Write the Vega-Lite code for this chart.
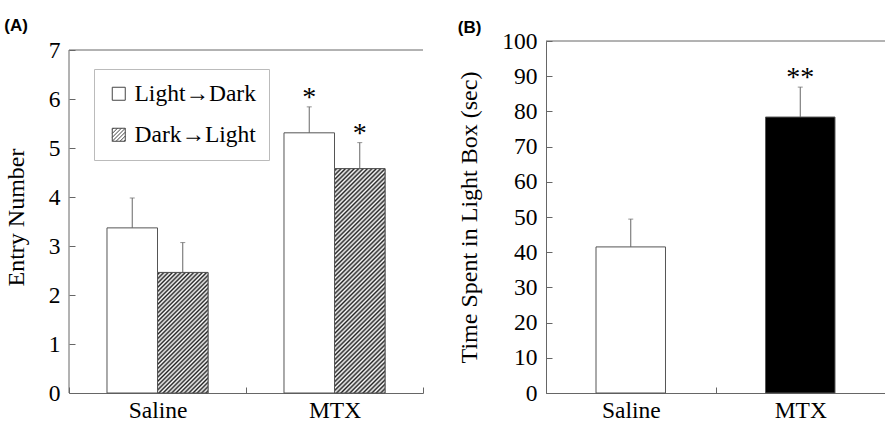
{
  "$schema": "https://vega.github.io/schema/vega-lite/v6.json",
  "background": "white",
  "padding": {"left": 4, "top": 17, "right": 1, "bottom": 0},
  "config": {
    "view": {"stroke": null},
    "axis": {
      "labelFont": "Liberation Serif", "labelFontSize": 23.5, "labelColor": "#000",
      "titleFont": "Liberation Serif", "titleFontSize": 24, "titleFontWeight": "normal", "titleColor": "#000",
      "domainColor": "#666", "tickColor": "#666", "tickSize": -6, "grid": false
    },
    "title": {"font": "Liberation Sans", "fontSize": 17, "fontWeight": "bold", "anchor": "start", "frame": "bounds", "color": "#000"},
    "concat": {"spacing": 33}
  },
  "datasets": {
    "entries": [
      {"group": "Saline", "dir": "Light→Dark", "mean": 3.37, "upper": 3.98, "sig": ""},
      {"group": "Saline", "dir": "Dark→Light", "mean": 2.46, "upper": 3.07, "sig": ""},
      {"group": "MTX", "dir": "Light→Dark", "mean": 5.31, "upper": 5.84, "sig": "*"},
      {"group": "MTX", "dir": "Dark→Light", "mean": 4.58, "upper": 5.11, "sig": "*"}
    ],
    "time": [
      {"group": "Saline", "mean": 41.5, "upper": 49.4, "sig": ""},
      {"group": "MTX", "mean": 78.4, "upper": 86.9, "sig": "**"}
    ]
  },
  "hconcat": [
    {
      "width": 354, "height": 352,
      "title": {"text": "(A)", "offset": 6, "dy": 3},
      "data": {"name": "entries"},
      "layer": [
        {
          "mark": {"type": "bar", "stroke": "#555", "strokeWidth": 1, "fill": "white"},
          "encoding": {
            "x": {"field": "group", "type": "nominal", "sort": ["Saline", "MTX"], "scale": {"domain": ["Saline", "MTX"], "paddingInner": 0, "paddingOuter": 0}, "axis": {"title": null, "labelAngle": 0, "tickBand": "extent", "labelPadding": 11}},
            "xOffset": {"field": "dir", "type": "nominal", "scale": {"domain": ["Light→Dark", "Dark→Light"], "paddingInner": 0, "paddingOuter": 0.752}},
            "y": {"field": "mean", "type": "quantitative", "scale": {"domain": [0, 7.184], "nice": false}, "axis": {"title": "Entry Number", "values": [0, 1, 2, 3, 4, 5, 6, 7], "domain": false, "labelOverlap": false, "labelPadding": 15, "titlePadding": 20}}
          }
        },
        {
          "transform": [{"filter": "datum.dir === 'Dark→Light'"}],
          "mark": {"type": "bar", "stroke": "#555", "strokeWidth": 1},
          "encoding": {
            "x": {"field": "group", "type": "nominal", "sort": ["Saline", "MTX"], "scale": {"domain": ["Saline", "MTX"], "paddingInner": 0, "paddingOuter": 0}},
            "xOffset": {"field": "dir", "type": "nominal", "scale": {"domain": ["Light→Dark", "Dark→Light"], "paddingInner": 0, "paddingOuter": 0.752}},
            "y": {"field": "mean", "type": "quantitative", "scale": {"domain": [0, 7.184], "nice": false}},
            "fill": {
              "condition": {
                "test": "datum.group === 'Saline'",
                "value": {"gradient": "linear", "x1": 0, "y1": 0, "x2": 0.506, "y2": 1.207, "stops": [
                  {"offset": 0, "color": "#fff"}, {"offset": 0.0125, "color": "#222"}, {"offset": 0.025, "color": "#fff"}, {"offset": 0.0375, "color": "#222"},
                  {"offset": 0.05, "color": "#fff"}, {"offset": 0.0625, "color": "#222"}, {"offset": 0.075, "color": "#fff"}, {"offset": 0.0875, "color": "#222"},
                  {"offset": 0.1, "color": "#fff"}, {"offset": 0.1125, "color": "#222"}, {"offset": 0.125, "color": "#fff"}, {"offset": 0.1375, "color": "#222"},
                  {"offset": 0.15, "color": "#fff"}, {"offset": 0.1625, "color": "#222"}, {"offset": 0.175, "color": "#fff"}, {"offset": 0.1875, "color": "#222"},
                  {"offset": 0.2, "color": "#fff"}, {"offset": 0.2125, "color": "#222"}, {"offset": 0.225, "color": "#fff"}, {"offset": 0.2375, "color": "#222"},
                  {"offset": 0.25, "color": "#fff"}, {"offset": 0.2625, "color": "#222"}, {"offset": 0.275, "color": "#fff"}, {"offset": 0.2875, "color": "#222"},
                  {"offset": 0.3, "color": "#fff"}, {"offset": 0.3125, "color": "#222"}, {"offset": 0.325, "color": "#fff"}, {"offset": 0.3375, "color": "#222"},
                  {"offset": 0.35, "color": "#fff"}, {"offset": 0.3625, "color": "#222"}, {"offset": 0.375, "color": "#fff"}, {"offset": 0.3875, "color": "#222"},
                  {"offset": 0.4, "color": "#fff"}, {"offset": 0.4125, "color": "#222"}, {"offset": 0.425, "color": "#fff"}, {"offset": 0.4375, "color": "#222"},
                  {"offset": 0.45, "color": "#fff"}, {"offset": 0.4625, "color": "#222"}, {"offset": 0.475, "color": "#fff"}, {"offset": 0.4875, "color": "#222"},
                  {"offset": 0.5, "color": "#fff"}, {"offset": 0.5125, "color": "#222"}, {"offset": 0.525, "color": "#fff"}, {"offset": 0.5375, "color": "#222"},
                  {"offset": 0.55, "color": "#fff"}, {"offset": 0.5625, "color": "#222"}, {"offset": 0.575, "color": "#fff"}, {"offset": 0.5875, "color": "#222"},
                  {"offset": 0.6, "color": "#fff"}, {"offset": 0.6125, "color": "#222"}, {"offset": 0.625, "color": "#fff"}, {"offset": 0.6375, "color": "#222"},
                  {"offset": 0.65, "color": "#fff"}, {"offset": 0.6625, "color": "#222"}, {"offset": 0.675, "color": "#fff"}, {"offset": 0.6875, "color": "#222"},
                  {"offset": 0.7, "color": "#fff"}, {"offset": 0.7125, "color": "#222"}, {"offset": 0.725, "color": "#fff"}, {"offset": 0.7375, "color": "#222"},
                  {"offset": 0.75, "color": "#fff"}, {"offset": 0.7625, "color": "#222"}, {"offset": 0.775, "color": "#fff"}, {"offset": 0.7875, "color": "#222"},
                  {"offset": 0.8, "color": "#fff"}, {"offset": 0.8125, "color": "#222"}, {"offset": 0.825, "color": "#fff"}, {"offset": 0.8375, "color": "#222"},
                  {"offset": 0.85, "color": "#fff"}, {"offset": 0.8625, "color": "#222"}, {"offset": 0.875, "color": "#fff"}, {"offset": 0.8875, "color": "#222"},
                  {"offset": 0.9, "color": "#fff"}, {"offset": 0.9125, "color": "#222"}, {"offset": 0.925, "color": "#fff"}, {"offset": 0.9375, "color": "#222"},
                  {"offset": 0.95, "color": "#fff"}, {"offset": 0.9625, "color": "#222"}, {"offset": 0.975, "color": "#fff"}, {"offset": 0.9875, "color": "#222"},
                  {"offset": 1, "color": "#fff"}
                ]}
              },
              "value": {"gradient": "linear", "x1": 0, "y1": 0, "x2": 0.262, "y2": 1.166, "stops": [
                {"offset": 0, "color": "#fff"}, {"offset": 0.008, "color": "#222"}, {"offset": 0.016, "color": "#fff"}, {"offset": 0.024, "color": "#222"},
                {"offset": 0.032, "color": "#fff"}, {"offset": 0.04, "color": "#222"}, {"offset": 0.048, "color": "#fff"}, {"offset": 0.056, "color": "#222"},
                {"offset": 0.064, "color": "#fff"}, {"offset": 0.072, "color": "#222"}, {"offset": 0.08, "color": "#fff"}, {"offset": 0.088, "color": "#222"},
                {"offset": 0.096, "color": "#fff"}, {"offset": 0.104, "color": "#222"}, {"offset": 0.112, "color": "#fff"}, {"offset": 0.12, "color": "#222"},
                {"offset": 0.128, "color": "#fff"}, {"offset": 0.136, "color": "#222"}, {"offset": 0.144, "color": "#fff"}, {"offset": 0.152, "color": "#222"},
                {"offset": 0.16, "color": "#fff"}, {"offset": 0.168, "color": "#222"}, {"offset": 0.176, "color": "#fff"}, {"offset": 0.184, "color": "#222"},
                {"offset": 0.192, "color": "#fff"}, {"offset": 0.2, "color": "#222"}, {"offset": 0.208, "color": "#fff"}, {"offset": 0.216, "color": "#222"},
                {"offset": 0.224, "color": "#fff"}, {"offset": 0.232, "color": "#222"}, {"offset": 0.24, "color": "#fff"}, {"offset": 0.248, "color": "#222"},
                {"offset": 0.256, "color": "#fff"}, {"offset": 0.264, "color": "#222"}, {"offset": 0.272, "color": "#fff"}, {"offset": 0.28, "color": "#222"},
                {"offset": 0.288, "color": "#fff"}, {"offset": 0.296, "color": "#222"}, {"offset": 0.304, "color": "#fff"}, {"offset": 0.312, "color": "#222"},
                {"offset": 0.32, "color": "#fff"}, {"offset": 0.328, "color": "#222"}, {"offset": 0.336, "color": "#fff"}, {"offset": 0.344, "color": "#222"},
                {"offset": 0.352, "color": "#fff"}, {"offset": 0.36, "color": "#222"}, {"offset": 0.368, "color": "#fff"}, {"offset": 0.376, "color": "#222"},
                {"offset": 0.384, "color": "#fff"}, {"offset": 0.392, "color": "#222"}, {"offset": 0.4, "color": "#fff"}, {"offset": 0.408, "color": "#222"},
                {"offset": 0.416, "color": "#fff"}, {"offset": 0.424, "color": "#222"}, {"offset": 0.432, "color": "#fff"}, {"offset": 0.44, "color": "#222"},
                {"offset": 0.448, "color": "#fff"}, {"offset": 0.456, "color": "#222"}, {"offset": 0.464, "color": "#fff"}, {"offset": 0.472, "color": "#222"},
                {"offset": 0.48, "color": "#fff"}, {"offset": 0.488, "color": "#222"}, {"offset": 0.496, "color": "#fff"}, {"offset": 0.504, "color": "#222"},
                {"offset": 0.512, "color": "#fff"}, {"offset": 0.52, "color": "#222"}, {"offset": 0.528, "color": "#fff"}, {"offset": 0.536, "color": "#222"},
                {"offset": 0.544, "color": "#fff"}, {"offset": 0.552, "color": "#222"}, {"offset": 0.56, "color": "#fff"}, {"offset": 0.568, "color": "#222"},
                {"offset": 0.576, "color": "#fff"}, {"offset": 0.584, "color": "#222"}, {"offset": 0.592, "color": "#fff"}, {"offset": 0.6, "color": "#222"},
                {"offset": 0.608, "color": "#fff"}, {"offset": 0.616, "color": "#222"}, {"offset": 0.624, "color": "#fff"}, {"offset": 0.632, "color": "#222"},
                {"offset": 0.64, "color": "#fff"}, {"offset": 0.648, "color": "#222"}, {"offset": 0.656, "color": "#fff"}, {"offset": 0.664, "color": "#222"},
                {"offset": 0.672, "color": "#fff"}, {"offset": 0.68, "color": "#222"}, {"offset": 0.688, "color": "#fff"}, {"offset": 0.696, "color": "#222"},
                {"offset": 0.704, "color": "#fff"}, {"offset": 0.712, "color": "#222"}, {"offset": 0.72, "color": "#fff"}, {"offset": 0.728, "color": "#222"},
                {"offset": 0.736, "color": "#fff"}, {"offset": 0.744, "color": "#222"}, {"offset": 0.752, "color": "#fff"}, {"offset": 0.76, "color": "#222"},
                {"offset": 0.768, "color": "#fff"}, {"offset": 0.776, "color": "#222"}, {"offset": 0.784, "color": "#fff"}, {"offset": 0.792, "color": "#222"},
                {"offset": 0.8, "color": "#fff"}, {"offset": 0.808, "color": "#222"}, {"offset": 0.816, "color": "#fff"}, {"offset": 0.824, "color": "#222"},
                {"offset": 0.832, "color": "#fff"}, {"offset": 0.84, "color": "#222"}, {"offset": 0.848, "color": "#fff"}, {"offset": 0.856, "color": "#222"},
                {"offset": 0.864, "color": "#fff"}, {"offset": 0.872, "color": "#222"}, {"offset": 0.88, "color": "#fff"}, {"offset": 0.888, "color": "#222"},
                {"offset": 0.896, "color": "#fff"}, {"offset": 0.904, "color": "#222"}, {"offset": 0.912, "color": "#fff"}, {"offset": 0.92, "color": "#222"},
                {"offset": 0.928, "color": "#fff"}, {"offset": 0.936, "color": "#222"}, {"offset": 0.944, "color": "#fff"}, {"offset": 0.952, "color": "#222"},
                {"offset": 0.96, "color": "#fff"}, {"offset": 0.968, "color": "#222"}, {"offset": 0.976, "color": "#fff"}, {"offset": 0.984, "color": "#222"},
                {"offset": 0.992, "color": "#fff"}, {"offset": 1, "color": "#222"}
              ]}
            }
          }
        },
        {
          "mark": {"type": "rule", "color": "#666", "strokeWidth": 1},
          "encoding": {
            "x": {"field": "group", "type": "nominal", "sort": ["Saline", "MTX"], "scale": {"domain": ["Saline", "MTX"], "paddingInner": 0, "paddingOuter": 0}},
            "xOffset": {"field": "dir", "type": "nominal", "scale": {"domain": ["Light→Dark", "Dark→Light"], "paddingInner": 0, "paddingOuter": 0.752}},
            "y": {"field": "mean", "type": "quantitative", "scale": {"domain": [0, 7.184], "nice": false}},
            "y2": {"field": "upper"}
          }
        },
        {
          "mark": {"type": "tick", "color": "#666", "size": 5, "thickness": 1},
          "encoding": {
            "x": {"field": "group", "type": "nominal", "sort": ["Saline", "MTX"], "scale": {"domain": ["Saline", "MTX"], "paddingInner": 0, "paddingOuter": 0}},
            "xOffset": {"field": "dir", "type": "nominal", "scale": {"domain": ["Light→Dark", "Dark→Light"], "paddingInner": 0, "paddingOuter": 0.752}},
            "y": {"field": "upper", "type": "quantitative", "scale": {"domain": [0, 7.184], "nice": false}}
          }
        },
        {
          "mark": {"type": "text", "font": "Liberation Serif", "fontSize": 28, "baseline": "alphabetic", "dy": -1, "color": "#000"},
          "encoding": {
            "x": {"field": "group", "type": "nominal", "sort": ["Saline", "MTX"], "scale": {"domain": ["Saline", "MTX"], "paddingInner": 0, "paddingOuter": 0}},
            "xOffset": {"field": "dir", "type": "nominal", "scale": {"domain": ["Light→Dark", "Dark→Light"], "paddingInner": 0, "paddingOuter": 0.752}},
            "y": {"field": "upper", "type": "quantitative", "scale": {"domain": [0, 7.184], "nice": false}},
            "text": {"field": "sig"}
          }
        },
        {
          "transform": [{"filter": "datum.mean < 0"}],
          "mark": {"type": "point", "filled": false, "color": "#555", "strokeWidth": 1},
          "encoding": {
            "x": {"field": "group", "type": "nominal", "sort": ["Saline", "MTX"], "scale": {"domain": ["Saline", "MTX"], "paddingInner": 0, "paddingOuter": 0}},
            "y": {"field": "mean", "type": "quantitative", "scale": {"domain": [0, 7.184], "nice": false}},
            "shape": {
              "field": "dir", "type": "nominal",
              "scale": {"domain": ["Light→Dark", "Dark→Light"], "range": ["square", "M-1,-1H1V1H-1Z M-1,-0.8L-0.8,-1 M-1,-0.2L-0.2,-1 M-1,0.4L0.4,-1 M-1,1L1,-1 M-0.4,1L1,-0.4 M0.2,1L1,0.2 M0.8,1L1,0.8"]},
              "legend": {
                "title": null, "orient": "none", "legendX": 25, "legendY": 28,
                "strokeColor": "#bbb", "fillColor": "white", "padding": 13,
                "labelFont": "Liberation Serif", "labelFontSize": 23.5, "labelColor": "#000", "labelOffset": 4,
                "symbolSize": 169, "symbolStrokeColor": "#444", "symbolStrokeWidth": 1, "symbolFillColor": "white", "symbolOpacity": 1,
                "rowPadding": 16
              }
            }
          }
        },
        {
          "data": {"values": [{}]},
          "mark": {"type": "rule", "color": "#666", "strokeWidth": 1},
          "encoding": {
            "y": {"datum": 7, "type": "quantitative", "scale": {"domain": [0, 7.184], "nice": false}}
          }
        },
        {
          "data": {"values": [{}]},
          "mark": {"type": "rule", "color": "#666", "strokeWidth": 1},
          "encoding": {
            "x": {"datum": "Saline", "type": "nominal", "bandPosition": 0, "scale": {"domain": ["Saline", "MTX"], "paddingInner": 0, "paddingOuter": 0}},
            "y": {"datum": 0, "type": "quantitative", "scale": {"domain": [0, 7.184], "nice": false}},
            "y2": {"datum": 7}
          }
        }
      ]
    },
    {
      "width": 339, "height": 352,
      "title": {"text": "(B)", "offset": 0, "dy": 8},
      "data": {"name": "time"},
      "layer": [
        {
          "mark": {"type": "bar", "stroke": "#555", "strokeWidth": 1, "width": {"band": 0.41}},
          "encoding": {
            "x": {"field": "group", "type": "nominal", "sort": ["Saline", "MTX"], "scale": {"domain": ["Saline", "MTX"], "paddingInner": 0, "paddingOuter": 0}, "axis": {"title": null, "labelAngle": 0, "tickBand": "extent", "labelPadding": 11}},
            "y": {"field": "mean", "type": "quantitative", "scale": {"domain": [0, 100], "nice": false}, "axis": {"title": "Time Spent in Light Box (sec)", "values": [0, 10, 20, 30, 40, 50, 60, 70, 80, 90, 100], "tickCount": 11, "labelOverlap": false, "labelPadding": 15, "titlePadding": 20}},
            "fill": {"field": "group", "type": "nominal", "scale": {"domain": ["Saline", "MTX"], "range": ["white", "#000"]}, "legend": null}
          }
        },
        {
          "mark": {"type": "rule", "color": "#666", "strokeWidth": 1},
          "encoding": {
            "x": {"field": "group", "type": "nominal", "sort": ["Saline", "MTX"], "scale": {"domain": ["Saline", "MTX"], "paddingInner": 0, "paddingOuter": 0}},
            "y": {"field": "mean", "type": "quantitative", "scale": {"domain": [0, 100], "nice": false}},
            "y2": {"field": "upper"}
          }
        },
        {
          "mark": {"type": "tick", "color": "#666", "size": 5, "thickness": 1},
          "encoding": {
            "x": {"field": "group", "type": "nominal", "sort": ["Saline", "MTX"], "scale": {"domain": ["Saline", "MTX"], "paddingInner": 0, "paddingOuter": 0}},
            "y": {"field": "upper", "type": "quantitative", "scale": {"domain": [0, 100], "nice": false}}
          }
        },
        {
          "mark": {"type": "text", "font": "Liberation Serif", "fontSize": 28, "baseline": "alphabetic", "dy": -1, "color": "#000"},
          "encoding": {
            "x": {"field": "group", "type": "nominal", "sort": ["Saline", "MTX"], "scale": {"domain": ["Saline", "MTX"], "paddingInner": 0, "paddingOuter": 0}},
            "y": {"field": "upper", "type": "quantitative", "scale": {"domain": [0, 100], "nice": false}},
            "text": {"field": "sig"}
          }
        },
        {
          "data": {"values": [{}]},
          "mark": {"type": "rule", "color": "#666", "strokeWidth": 1},
          "encoding": {
            "y": {"datum": 100, "type": "quantitative", "scale": {"domain": [0, 100], "nice": false}}
          }
        }
      ]
    }
  ]
}
